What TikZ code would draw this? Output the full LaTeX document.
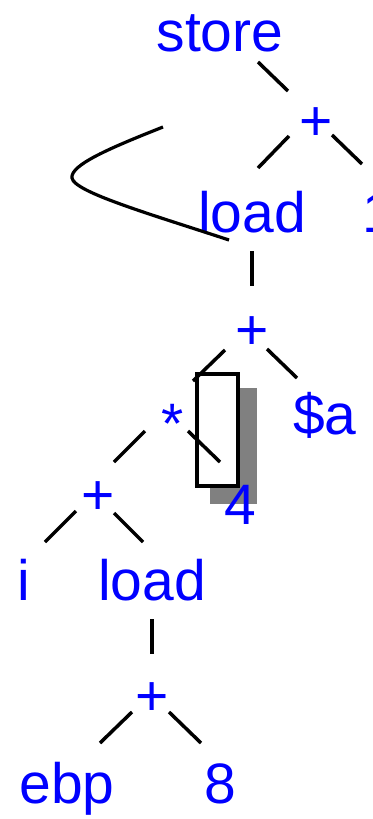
\documentclass[tikz,border=0pt]{standalone}
\usepackage{fontspec}
\setmainfont{Liberation Sans}

\begin{document}
\begin{tikzpicture}[x=0.5pt, y=-0.5pt,
  lbl/.style={text=blue, inner sep=0pt, anchor=base, font=\fontsize{28.5}{34}\selectfont},
  edge/.style={line width=1.75pt},
  hookline/.style={line width=1.6pt}]
\useasboundingbox (0,0) rectangle (373,819);
\clip (0,0) rectangle (373,819);
\fill[black!50] (210,388) rectangle (257,504);
\draw[line width=1.75pt, fill=white] (197,374) rectangle (238,486);
\node[lbl] (store) at (220,51) {store};
\node[lbl] (p1) at (316,140) {+};
\node[lbl] (ld1) at (252,232) {load};
\node[lbl] (one) at (378,232) {1};
\node[lbl] (p2) at (252,349) {+};
\node[lbl] (star) at (173,443) {*};
\node[lbl] (dol) at (325,434) {\$a};
\node[lbl] (four) at (240,524) {4};
\node[lbl] (p3) at (98,514) {+};
\node[lbl] (vi) at (24,600) {i};
\node[lbl] (ld2) at (152,600) {load};
\node[lbl] (p4) at (152,715) {+};
\node[lbl] (ebp) at (67,803) {ebp};
\node[lbl] (eight) at (220,803) {8};
\draw[edge] ([shift={(38,11)}]store.base) -- ([shift={(-28,-49)}]p1.base);
\draw[edge] ([shift={(-27,-4)}]p1.base) -- ([shift={(6,-64)}]ld1.base);
\draw[edge] ([shift={(16,-5)}]p1.base) -- ([shift={(-16,-68)}]one.base);
\draw[edge] ([shift={(0,19)}]ld1.base) -- ([shift={(0,-63)}]p2.base);
\draw[edge] ([shift={(-27,1)}]p2.base) -- ([shift={(20,-62)}]star.base);
\draw[edge] ([shift={(15,0)}]p2.base) -- ([shift={(-28,-56)}]dol.base);
\draw[edge] ([shift={(-28,-12)}]star.base) -- ([shift={(16,-52)}]p3.base);
\draw[edge] ([shift={(15,-12)}]star.base) -- ([shift={(-20,-62)}]four.base);
\draw[edge] ([shift={(-22,-3)}]p3.base) -- ([shift={(21,-58)}]vi.base);
\draw[edge] ([shift={(16,-1)}]p3.base) -- ([shift={(-9,-58)}]ld2.base);
\draw[edge] ([shift={(0,19)}]ld2.base) -- ([shift={(0,-61)}]p4.base);
\draw[edge] ([shift={(-20,-3)}]p4.base) -- ([shift={(33,-60)}]ebp.base);
\draw[edge] ([shift={(17,-3)}]p4.base) -- ([shift={(-19,-60)}]eight.base);
\coordinate (hook) at (163,127);
\draw[hookline] (hook) .. controls (110,148) and (70,165) .. (72,178) .. controls (74,192) and (150,214) .. ([shift={(-23,8)}]ld1.base);
\end{tikzpicture}
\end{document}
